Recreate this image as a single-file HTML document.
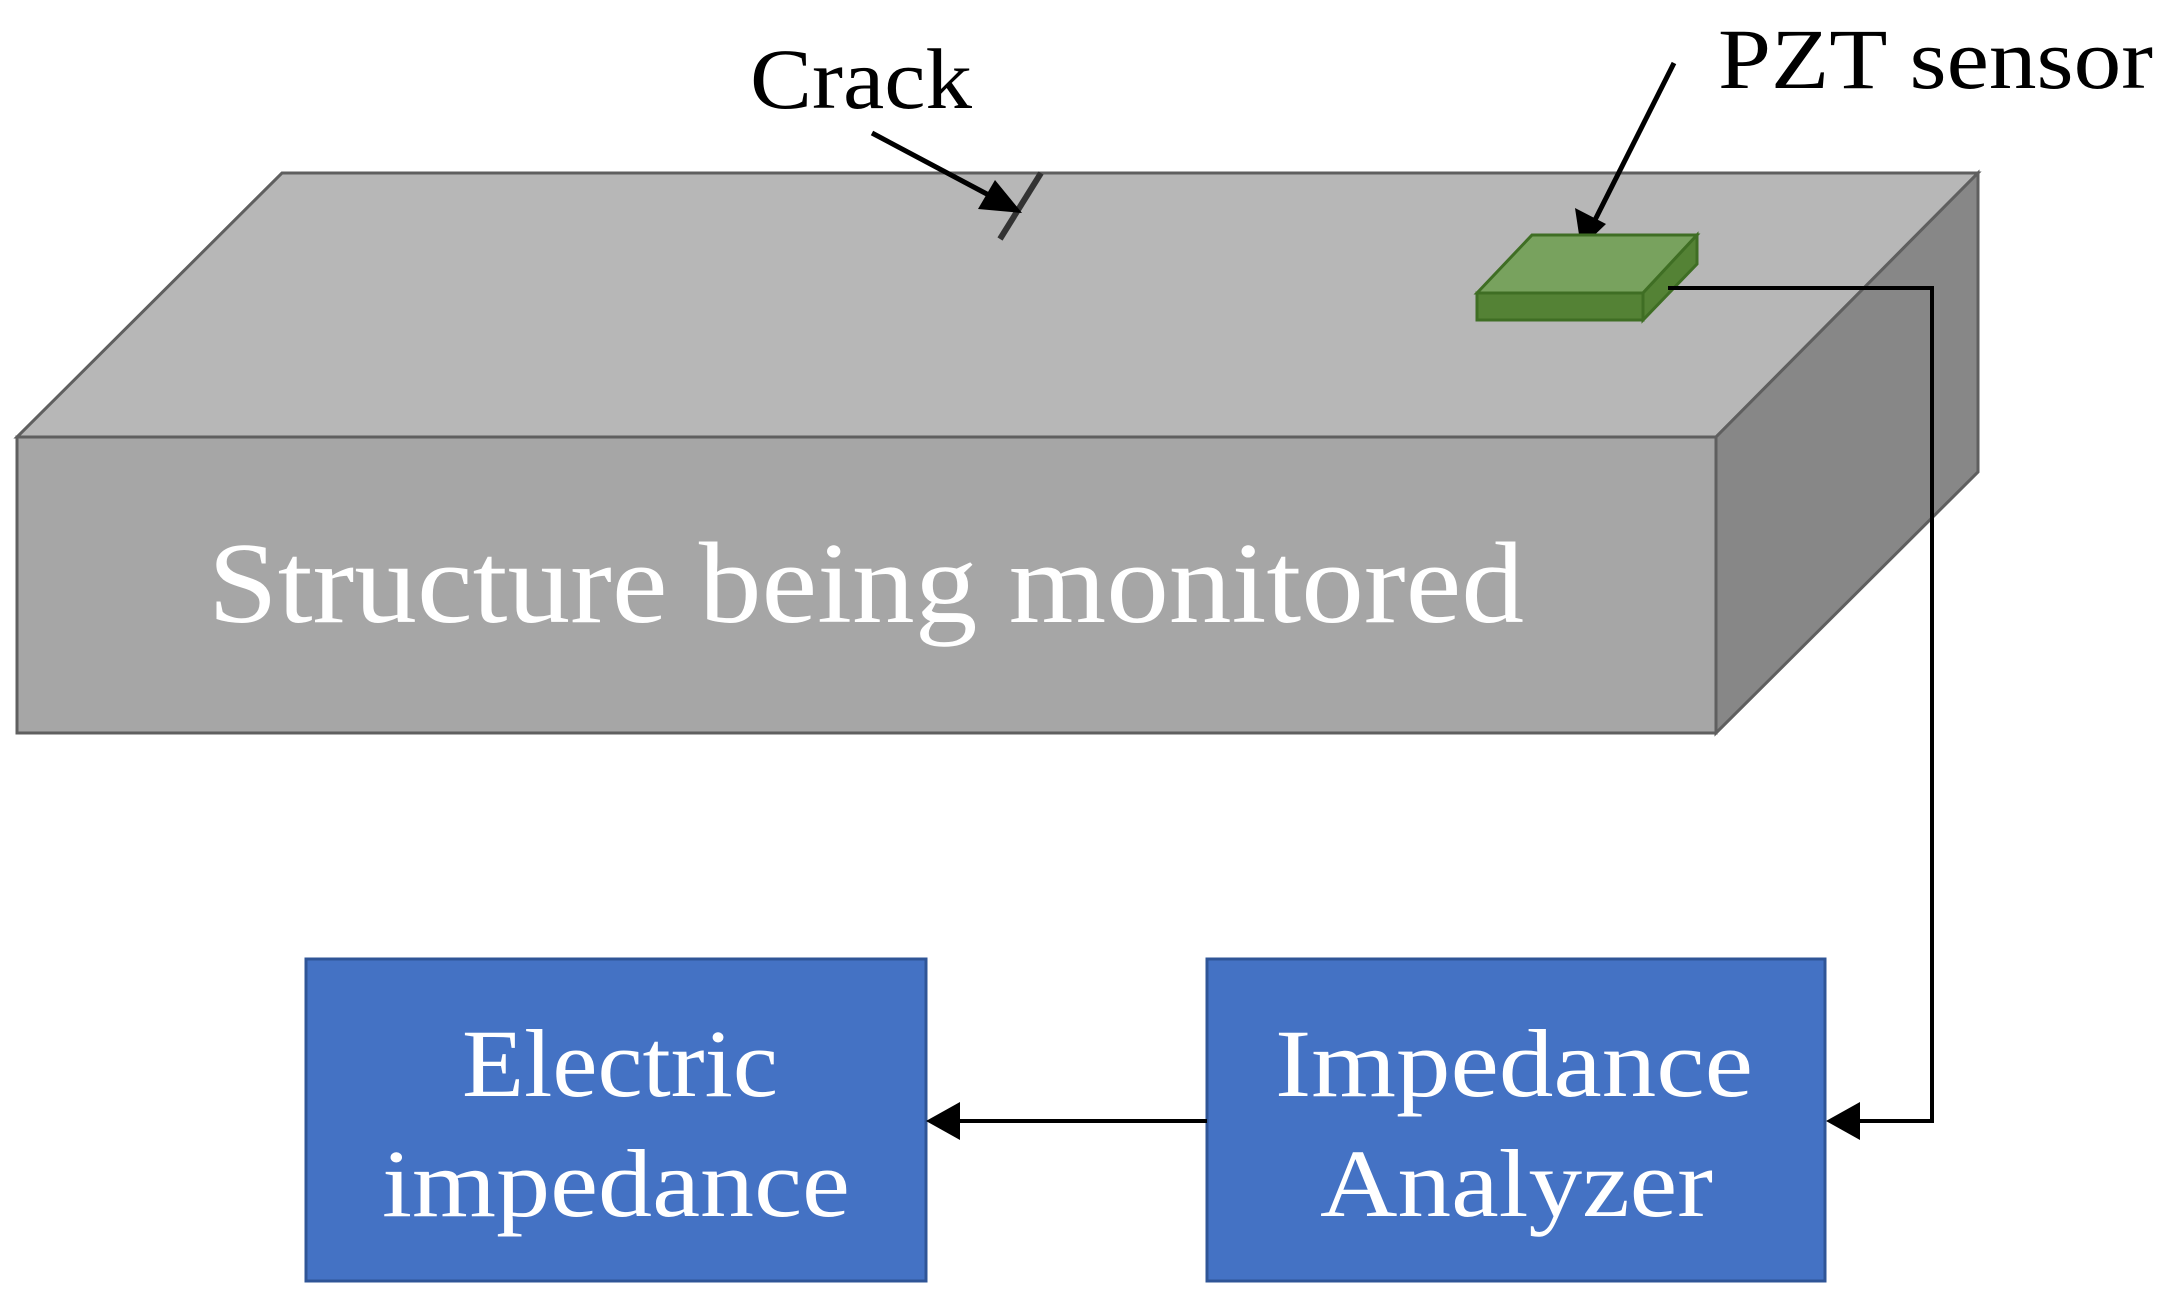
<!DOCTYPE html>
<html><head><meta charset="utf-8"><style>html,body{margin:0;padding:0;background:#fff}svg{display:block}</style></head>
<body>
<svg width="2171" height="1309" viewBox="0 0 2171 1309" xmlns="http://www.w3.org/2000/svg">
<polygon points="282,173 1978,173 1716,437 17,437" fill="#b7b7b7" stroke="#5f5f5f" stroke-width="3"/>
<polygon points="1716,437 1978,173 1978,472 1716,733" fill="#878787" stroke="#5f5f5f" stroke-width="3"/>
<rect x="17" y="437" width="1699" height="296" fill="#a6a6a6" stroke="#5f5f5f" stroke-width="3"/>
<text x="208" y="622" font-family="Liberation Serif, serif" font-size="116" fill="#fff" textLength="1316" lengthAdjust="spacingAndGlyphs">Structure being monitored</text>
<line x1="1000" y1="239" x2="1041" y2="173" stroke="#333" stroke-width="6"/>
<line x1="872" y1="133" x2="1000" y2="201" stroke="#000" stroke-width="5"/>
<polygon points="1022,213 978,209 995,180" fill="#000"/>
<text x="750" y="108" font-family="Liberation Serif, serif" font-size="86" fill="#000" textLength="222" lengthAdjust="spacingAndGlyphs">Crack</text>
<text x="1718" y="88" font-family="Liberation Serif, serif" font-size="86" fill="#000" textLength="435" lengthAdjust="spacingAndGlyphs">PZT sensor</text>
<line x1="1674" y1="63" x2="1595" y2="220" stroke="#000" stroke-width="5"/>
<polygon points="1581,248 1575,208 1606,224" fill="#000"/>
<polygon points="1477,293 1532,235 1697,235 1643,293" fill="#78a25e" stroke="#3f6e24" stroke-width="3"/>
<polygon points="1643,293 1697,235 1697,264 1643,320" fill="#548235" stroke="#3f6e24" stroke-width="3"/>
<rect x="1477" y="293" width="166" height="27" fill="#548235" stroke="#3f6e24" stroke-width="3"/>
<polyline points="1668,288 1932,288 1932,1121 1855,1121" fill="none" stroke="#000" stroke-width="4"/>
<polygon points="1826,1121 1860,1102 1860,1140" fill="#000"/>
<rect x="306" y="959" width="620" height="322" fill="#4472c4" stroke="#2f5597" stroke-width="3"/>
<rect x="1207" y="959" width="618" height="322" fill="#4472c4" stroke="#2f5597" stroke-width="3"/>
<line x1="1207" y1="1121" x2="955" y2="1121" stroke="#000" stroke-width="4"/>
<polygon points="926,1121 960,1102 960,1140" fill="#000"/>
<g font-family="Liberation Serif, serif" font-size="96" fill="#fff" lengthAdjust="spacingAndGlyphs">
<text x="462" y="1096" textLength="316" lengthAdjust="spacingAndGlyphs">Electric</text>
<text x="382" y="1216" textLength="468" lengthAdjust="spacingAndGlyphs">impedance</text>
<text x="1275" y="1096" textLength="478" lengthAdjust="spacingAndGlyphs">Impedance</text>
<text x="1320" y="1216" textLength="393" lengthAdjust="spacingAndGlyphs">Analyzer</text>
</g>
</svg>
</body></html>
